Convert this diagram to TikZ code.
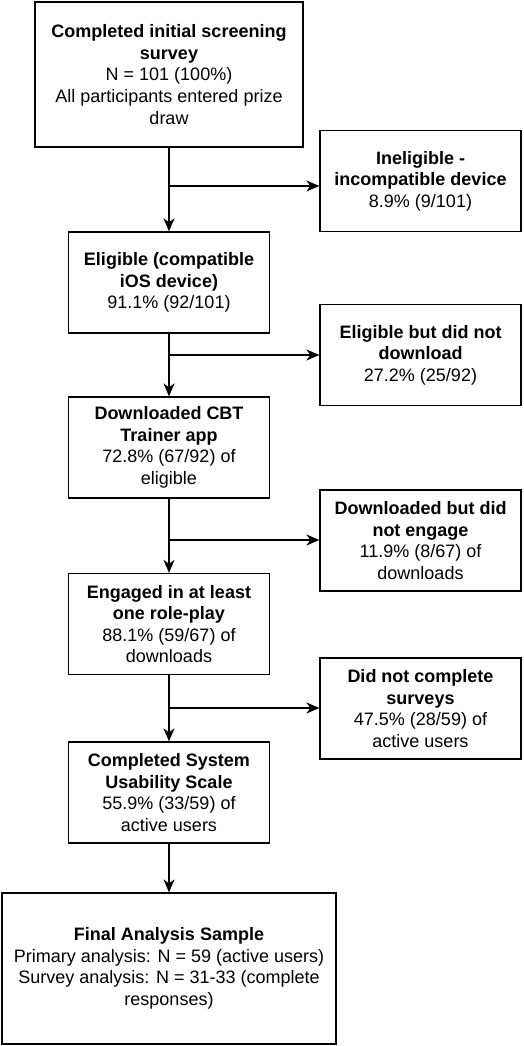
\documentclass[tikz,border=0pt]{standalone}
\usepackage{fontspec}
\setmainfont{Liberation Sans}
\usetikzlibrary{arrows.meta,positioning,calc}

\begin{document}
\begin{tikzpicture}[x=1pt,y=-1pt,>={Stealth[length=13pt,width=11pt,inset=4pt]},line width=1.3pt,
  box/.style={draw,align=center,minimum width=201pt,minimum height=101pt,inner sep=1pt,font=\fontsize{18}{21.6}\selectfont}]
\useasboundingbox (0,0) rectangle (524,1046);
% main column
\node[box,minimum width=268pt,minimum height=145pt] (screen) at (169,74.5) {\textbf{Completed initial screening}\\\textbf{survey}\\N = 101 (100\%)\\All participants entered prize\\draw};
\node[box] (elig) at (169,282.5) {\textbf{Eligible (compatible}\\\textbf{iOS device)}\\91.1\% (92/101)};
\node[box] (dl) at (169,447.5) {\textbf{Downloaded CBT}\\\textbf{Trainer app}\\72.8\% (67/92) of\\eligible};
\node[box] (eng) at (169,624) {\textbf{Engaged in at least}\\\textbf{one role-play}\\88.1\% (59/67) of\\downloads};
\node[box] (sus) at (169,792.5) {\textbf{Completed System}\\\textbf{Usability Scale}\\55.9\% (33/59) of\\active users};
\node[box,minimum width=334pt,minimum height=151pt] (final) at (169,968.5) {\textbf{Final Analysis Sample}\\Primary analysis: N = 59 (active users)\\Survey analysis: N = 31-33 (complete\\responses)};
% exclusions
\node[box] (inel) at (420.5,181) {\textbf{Ineligible -}\\\textbf{incompatible device}\\8.9\% (9/101)};
\node[box] (nodl) at (420.5,355) {\textbf{Eligible but did not}\\\textbf{download}\\27.2\% (25/92)};
\node[box] (noeng) at (420.5,540.5) {\textbf{Downloaded but did}\\\textbf{not engage}\\11.9\% (8/67) of\\downloads};
\node[box] (nosurv) at (420.5,708.5) {\textbf{Did not complete}\\\textbf{surveys}\\47.5\% (28/59) of\\active users};
% flow
\draw[->] (screen) -- (elig); \draw[->] (elig) -- (dl); \draw[->] (dl) -- (eng);
\draw[->] (eng) -- (sus); \draw[->] (sus) -- (final);
\coordinate (b1) at (169,186); \coordinate (b2) at (169,355);
\coordinate (b3) at (169,540); \coordinate (b4) at (169,708);
\draw[->] (b1) -- (b1 -| inel.west); \draw[->] (b2) -- (b2 -| nodl.west);
\draw[->] (b3) -- (b3 -| noeng.west); \draw[->] (b4) -- (b4 -| nosurv.west);
\end{tikzpicture}
\end{document}
